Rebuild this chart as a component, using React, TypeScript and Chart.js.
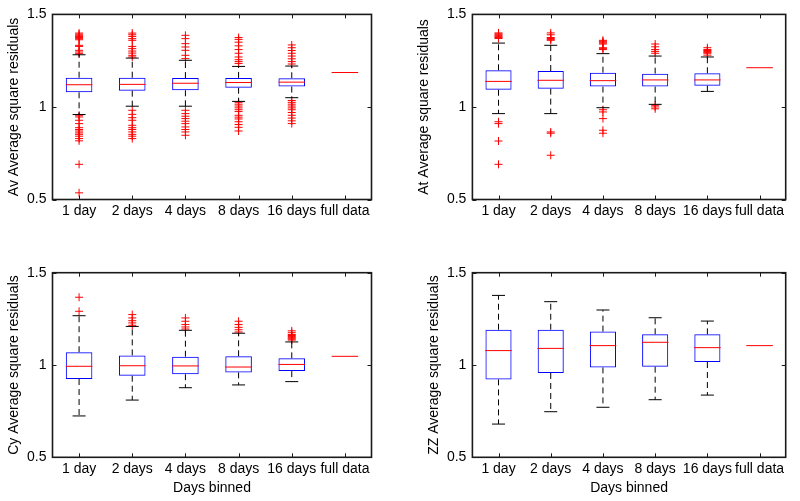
import React, { useEffect, useRef } from 'react';
import { Chart, registerables } from 'chart.js';

Chart.register(...registerables);

const FONT = '"Liberation Sans", Arial, Helvetica, sans-serif';
const FONT_SIZE = 14;

const categories = ['1 day', '2 days', '4 days', '8 days', '16 days', 'full data'];
const xTitle = 'Days binned';

// ---- Av ----
const avMedian = [1.120, 1.122, 1.128, 1.132, 1.134, 1.186];
const avQ1 = [1.079, 1.088, 1.090, 1.104, 1.110, null];
const avQ3 = [1.158, 1.158, 1.156, 1.157, 1.155, null];
const avLow = [0.959, 1.004, 1.004, 1.030, 1.050, null];
const avHigh = [1.282, 1.264, 1.252, 1.219, 1.221, null];
const avOut1 = [1.399, 1.393, 1.387, 1.381, 1.375, 1.369, 1.363, 1.333, 1.327, 1.306, 1.297, 1.288,
  0.955, 0.946, 0.928, 0.910, 0.888, 0.878, 0.870, 0.860, 0.852, 0.842, 0.829, 0.817, 0.690, 0.536];
const avOut2 = [1.399, 1.390, 1.381, 1.369, 1.360, 1.327, 1.315, 1.302, 1.291, 1.279, 1.270,
  0.982, 0.960, 0.942, 0.928, 0.901, 0.888, 0.878, 0.865, 0.852, 0.842, 0.829];
const avOut3 = [1.387, 1.369, 1.342, 1.324, 1.306, 1.279, 1.261,
  0.982, 0.964, 0.950, 0.937, 0.923, 0.910, 0.892, 0.878, 0.865, 0.847];
const avOut4 = [1.375, 1.365, 1.350, 1.330, 1.310, 1.290, 1.270, 1.255, 1.245, 1.235,
  1.025, 1.015, 1.005, 0.995, 0.985, 0.975, 0.955, 0.945, 0.935, 0.920, 0.905, 0.890, 0.870];
const avOut5 = [1.335, 1.320, 1.305, 1.290, 1.275, 1.260, 1.245, 1.232,
  1.035, 1.025, 1.015, 1.005, 0.995, 0.985, 0.970, 0.955, 0.940, 0.925, 0.910];
const avOut6: number[] = [];

// ---- At ----
const atMedian = [1.138, 1.144, 1.142, 1.146, 1.146, 1.212];
const atQ1 = [1.093, 1.099, 1.110, 1.110, 1.115, null];
const atQ3 = [1.198, 1.194, 1.185, 1.180, 1.182, null];
const atLow = [0.964, 0.964, 0.996, 1.014, 1.084, null];
const atHigh = [1.345, 1.333, 1.288, 1.275, 1.270, null];
const atOut1 = [1.400, 1.395, 1.390, 1.385, 1.380, 1.375, 1.370, 0.920, 0.910, 0.816, 0.690];
const atOut2 = [1.400, 1.390, 1.375, 1.370, 1.365, 1.360, 0.865, 0.858, 0.739];
const atOut3 = [1.360, 1.355, 1.350, 1.345, 1.340, 1.320, 1.315, 1.310, 0.985, 0.973, 0.937, 0.874, 0.858];
const atOut4 = [1.340, 1.325, 1.310, 1.300, 1.290, 1.009, 1.000, 0.990];
const atOut5 = [1.320, 1.310, 1.305, 1.300, 1.295, 1.290, 1.280];
const atOut6: number[] = [];

// ---- Cy ----
const cyMedian = [0.993, 0.996, 0.995, 0.989, 1.003, 1.047];
const cyQ1 = [0.924, 0.942, 0.950, 0.960, 0.967, null];
const cyQ3 = [1.069, 1.052, 1.045, 1.047, 1.036, null];
const cyLow = [0.724, 0.810, 0.877, 0.892, 0.910, null];
const cyHigh = [1.267, 1.209, 1.188, 1.172, 1.125, null];
const cyOut1 = [1.367, 1.291];
const cyOut2 = [1.273, 1.255, 1.240, 1.228, 1.215];
const cyOut3 = [1.255, 1.237, 1.219, 1.206, 1.195];
const cyOut4 = [1.237, 1.219, 1.204, 1.191, 1.179];
const cyOut5 = [1.185, 1.175, 1.165, 1.160, 1.155, 1.150, 1.145, 1.140, 1.135];
const cyOut6: number[] = [];

// ---- ZZ ----
const zzMedian = [1.078, 1.090, 1.105, 1.123, 1.094, 1.105];
const zzQ1 = [0.922, 0.957, 0.987, 0.991, 1.016, null];
const zzQ3 = [1.191, 1.191, 1.181, 1.166, 1.166, null];
const zzLow = [0.680, 0.747, 0.771, 0.812, 0.837, null];
const zzHigh = [1.377, 1.343, 1.298, 1.256, 1.238, null];
const zzOut: number[][] = [[], [], [], [], [], []];

const framePlugin = {
  id: 'matlabFrame',
  afterDatasetsDraw(chart: any) {
    const { ctx, chartArea: a, scales } = chart;
    const L = 4;
    ctx.save();
    ctx.strokeStyle = '#1a1a1a';
    ctx.lineWidth = 1;
    const xs = scales.x;
    xs.ticks.forEach((_t: any, i: number) => {
      const px = Math.round(xs.getPixelForTick(i)) + 0.5;
      ctx.beginPath();
      ctx.moveTo(px, a.bottom);
      ctx.lineTo(px, a.bottom - L);
      ctx.moveTo(px, a.top);
      ctx.lineTo(px, a.top + L);
      ctx.stroke();
    });
    const ys = scales.y;
    ys.ticks.forEach((_t: any, i: number) => {
      const py = Math.round(ys.getPixelForTick(i)) + 0.5;
      ctx.beginPath();
      ctx.moveTo(a.left, py);
      ctx.lineTo(a.left + L, py);
      ctx.moveTo(a.right, py);
      ctx.lineTo(a.right - L, py);
      ctx.stroke();
    });
    ctx.lineWidth = 1.6;
    ctx.strokeRect(a.left, a.top, a.right - a.left, a.bottom - a.top);
    ctx.restore();
  },
};

type Geom = {
  left: number; top: number; width: number; height: number;
  padTop: number; padRight: number; yWidth: number; xHeight: number; yTitlePad: number;
};

type PanelProps = {
  ylabel: string;
  median: (number | null)[];
  q1: (number | null)[];
  q3: (number | null)[];
  low: (number | null)[];
  high: (number | null)[];
  outliers: number[][];
  showXTitle: boolean;
  geom: Geom;
};

function Panel({ ylabel, median, q1, q3, low, high, outliers, showXTitle, geom }: PanelProps) {
  const ref = useRef<HTMLCanvasElement | null>(null);
  useEffect(() => {
    if (!ref.current) return;
    const whiskers: any[] = [];
    categories.forEach((c, i) => {
      if (q3[i] != null && high[i] != null) {
        whiskers.push({
          type: 'line',
          data: [{ x: c, y: q3[i] }, { x: c, y: high[i] }],
          borderColor: '#000000',
          borderWidth: 1,
          borderDash: [6, 4],
          pointRadius: 0,
        });
      }
      if (q1[i] != null && low[i] != null) {
        whiskers.push({
          type: 'line',
          data: [{ x: c, y: q1[i] }, { x: c, y: low[i] }],
          borderColor: '#000000',
          borderWidth: 1,
          borderDash: [6, 4],
          pointRadius: 0,
        });
      }
    });
    const outlierPts: { x: string; y: number }[] = [];
    outliers.forEach((arr, i) => arr.forEach((v) => outlierPts.push({ x: categories[i], y: v })));

    const chart = new Chart(ref.current, {
      type: 'bar',
      data: {
        labels: categories,
        datasets: [
          {
            type: 'line',
            data: median,
            showLine: false,
            pointStyle: 'line',
            pointRadius: 13.3,
            pointBorderColor: '#ff0000',
            pointBackgroundColor: '#ff0000',
            pointBorderWidth: 1,
          } as any,
          {
            type: 'bar',
            data: q1.map((v, i) => (v == null || q3[i] == null ? null : [v, q3[i]])),
            backgroundColor: 'rgba(0,0,0,0)',
            borderColor: '#0000ff',
            borderWidth: 1,
            borderSkipped: false,
            barPercentage: 0.5,
            categoryPercentage: 1,
          } as any,
          {
            type: 'line',
            data: high,
            showLine: false,
            pointStyle: 'line',
            pointRadius: 6.5,
            pointBorderColor: '#000000',
            pointBorderWidth: 1,
          } as any,
          {
            type: 'line',
            data: low,
            showLine: false,
            pointStyle: 'line',
            pointRadius: 6.5,
            pointBorderColor: '#000000',
            pointBorderWidth: 1,
          } as any,
          ...whiskers,
          {
            type: 'line',
            data: outlierPts,
            showLine: false,
            pointStyle: 'cross',
            pointRadius: 4,
            pointBorderColor: '#ff0000',
            pointBorderWidth: 1,
          } as any,
        ],
      },
      options: {
        animation: false,
        responsive: false,
        events: [],
        layout: { padding: { left: 0, top: geom.padTop, right: geom.padRight, bottom: 0 } },
        plugins: { legend: { display: false }, tooltip: { enabled: false } },
        scales: {
          x: {
            type: 'category',
            offset: true,
            grid: { display: false, drawTicks: false },
            border: { display: false },
            ticks: { color: '#000', padding: 3.5, font: { family: FONT, size: FONT_SIZE }, maxRotation: 0, autoSkip: false },
            title: {
              display: showXTitle,
              text: xTitle,
              color: '#000',
              font: { family: FONT, size: FONT_SIZE },
              padding: { top: 0, bottom: 4.5 },
            },
            afterFit: (s: any) => { s.height = geom.xHeight; },
          },
          y: {
            type: 'linear',
            min: 0.5,
            max: 1.5,
            grid: { display: false, drawTicks: false },
            border: { display: false },
            ticks: {
              stepSize: 0.5,
              color: '#000',
              padding: 6,
              font: { family: FONT, size: FONT_SIZE },
              callback: (v: any) => String(Number(v)),
            },
            title: {
              display: true,
              text: ylabel,
              color: '#000',
              font: { family: FONT, size: FONT_SIZE },
              padding: { top: geom.yTitlePad, bottom: 0 },
            },
            afterFit: (s: any) => { s.width = geom.yWidth; },
          },
        },
      } as any,
      plugins: [framePlugin],
    });
    return () => chart.destroy();
  }, []);
  return (
    <canvas
      ref={ref}
      width={geom.width}
      height={geom.height}
      style={{ position: 'absolute', left: geom.left, top: geom.top, width: geom.width, height: geom.height }}
    />
  );
}

export default function App() {
  return (
    <div style={{ position: 'absolute', left: 0, top: 0, width: 800, height: 501, background: '#fff', overflow: 'hidden' }}>
      <Panel
        ylabel="Av Average square residuals"
        median={avMedian} q1={avQ1} q3={avQ3} low={avLow} high={avHigh}
        outliers={[avOut1, avOut2, avOut3, avOut4, avOut5, avOut6]}
        showXTitle={false}
        geom={{ left: 0, top: 0, width: 400, height: 250, padTop: 14, padRight: 28.5, yWidth: 52.5, xHeight: 50.5, yTitlePad: 5.3 }}
      />
      <Panel
        ylabel="At Average square residuals"
        median={atMedian} q1={atQ1} q3={atQ3} low={atLow} high={atHigh}
        outliers={[atOut1, atOut2, atOut3, atOut4, atOut5, atOut6]}
        showXTitle={false}
        geom={{ left: 400, top: 0, width: 400, height: 250, padTop: 14, padRight: 8.5, yWidth: 72.4, xHeight: 50.5, yTitlePad: 15.6 }}
      />
      <Panel
        ylabel="Cy Average square residuals"
        median={cyMedian} q1={cyQ1} q3={cyQ3} low={cyLow} high={cyHigh}
        outliers={[cyOut1, cyOut2, cyOut3, cyOut4, cyOut5, cyOut6]}
        showXTitle={true}
        geom={{ left: 0, top: 250, width: 400, height: 251, padTop: 22.7, padRight: 28.5, yWidth: 52.5, xHeight: 43.7, yTitlePad: 5.3 }}
      />
      <Panel
        ylabel="ZZ Average square residuals"
        median={zzMedian} q1={zzQ1} q3={zzQ3} low={zzLow} high={zzHigh}
        outliers={zzOut}
        showXTitle={true}
        geom={{ left: 400, top: 250, width: 400, height: 251, padTop: 22.7, padRight: 8.5, yWidth: 72.4, xHeight: 43.7, yTitlePad: 25.6 }}
      />
    </div>
  );
}
